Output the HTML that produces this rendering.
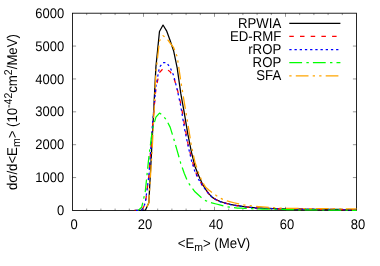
<!DOCTYPE html>
<html><head><meta charset="utf-8"><style>
html,body{margin:0;padding:0;background:#fff;}
body{width:380px;height:266px;overflow:hidden;}
svg{display:block;}
</style></head><body>
<svg width="380" height="266" viewBox="0 0 380 266" font-family="'Liberation Sans', sans-serif" font-size="13.2" fill="#000" text-rendering="geometricPrecision" style="will-change:transform">
<rect width="380" height="266" fill="#fff"/>
<rect x="72.5" y="13.2" width="284.0" height="197.25" fill="none" stroke="#000" stroke-width="0.85"/>
<path d="M86.70,210.45v-1.9M86.70,13.2v1.9M100.90,210.45v-1.9M100.90,13.2v1.9M115.10,210.45v-1.9M115.10,13.2v1.9M129.30,210.45v-1.9M129.30,13.2v1.9M143.50,210.45v-3.6M143.50,13.2v3.6M157.70,210.45v-1.9M157.70,13.2v1.9M171.90,210.45v-1.9M171.90,13.2v1.9M186.10,210.45v-1.9M186.10,13.2v1.9M200.30,210.45v-1.9M200.30,13.2v1.9M214.50,210.45v-3.6M214.50,13.2v3.6M228.70,210.45v-1.9M228.70,13.2v1.9M242.90,210.45v-1.9M242.90,13.2v1.9M257.10,210.45v-1.9M257.10,13.2v1.9M271.30,210.45v-1.9M271.30,13.2v1.9M285.50,210.45v-3.6M285.50,13.2v3.6M299.70,210.45v-1.9M299.70,13.2v1.9M313.90,210.45v-1.9M313.90,13.2v1.9M328.10,210.45v-1.9M328.10,13.2v1.9M342.30,210.45v-1.9M342.30,13.2v1.9M72.5,177.57h3.6M356.5,177.57h-3.6M72.5,144.70h3.6M356.5,144.70h-3.6M72.5,111.82h3.6M356.5,111.82h-3.6M72.5,78.95h3.6M356.5,78.95h-3.6M72.5,46.07h3.6M356.5,46.07h-3.6" stroke="#000" stroke-width="0.42" fill="none"/>
<polyline points="134.62,210.40 138.18,210.40 141.72,210.40 145.27,210.40 148.82,202.69 152.38,135.79 155.93,66.65 159.47,31.48 163.02,25.04 166.57,30.82 170.12,40.54 173.68,51.14 177.22,68.18 180.77,93.46 184.32,113.15 187.88,134.45 191.43,152.17 194.97,166.42 198.52,175.18 202.07,183.26 205.62,189.37 209.17,194.17 212.72,197.63 216.28,199.70 219.82,201.36 223.38,202.52 226.92,203.51 230.47,204.37 234.03,205.10 237.57,205.69 241.12,206.22 244.67,206.75 248.22,207.11 251.77,207.46 255.32,207.81 258.88,208.01 262.42,208.16 265.98,208.31 269.52,208.46 273.07,208.61 276.62,208.76 280.17,208.90 283.73,208.96 287.27,209.01 290.82,209.06 294.38,209.12 297.92,209.17 301.48,209.21 305.02,209.24 308.57,209.26 312.12,209.29 315.67,209.31 319.23,209.34 322.77,209.36 326.32,209.39 329.88,209.41 333.43,209.44 336.97,209.46 340.52,209.49 344.07,209.51 347.62,209.54 351.18,209.56 354.72,209.59 356.50,209.60" fill="none" stroke="#000" stroke-width="1.25" stroke-linejoin="round"/>
<polyline points="134.62,210.40 138.18,210.40 141.72,209.79 145.27,204.32 148.82,176.30 152.38,127.26 155.93,88.00 159.47,72.60 163.02,68.70 166.57,69.00 170.12,71.70 173.68,77.30 177.22,88.93 180.77,103.54 184.32,123.54 187.88,143.20 191.43,157.95 194.97,170.51 198.52,178.56 202.07,184.60 205.62,189.57 209.17,194.27 212.72,197.73 216.28,199.80 219.82,201.46 223.38,202.62 226.92,203.61 230.47,204.47 234.03,205.20 237.57,205.79 241.12,206.32 244.67,206.85 248.22,207.21 251.77,207.56 255.32,207.91 258.88,208.10 262.42,208.23 265.98,208.37 269.52,208.50 273.07,208.64 276.62,208.77 280.17,208.90 283.73,208.94 287.27,208.98 290.82,209.01 294.38,209.05 297.92,209.09 301.48,209.12 305.02,209.16 308.57,209.20 312.12,209.24 315.67,209.27 319.23,209.31 322.77,209.35 326.32,209.38 329.88,209.42 333.43,209.46 336.97,209.50 340.52,209.53 344.07,209.57 347.62,209.61 351.18,209.64 354.72,209.68 356.50,209.70" fill="none" stroke="#f00" stroke-width="1.25" stroke-linejoin="round" stroke-dasharray="4.5 6.2" stroke-dashoffset="3.5"/>
<polyline points="134.62,210.40 138.18,210.40 141.72,209.88 145.27,203.19 148.82,176.38 152.38,125.96 155.93,86.00 159.47,67.20 163.02,62.50 166.57,62.80 170.12,67.40 173.68,75.60 177.22,89.76 180.77,106.07 184.32,127.64 187.88,145.01 191.43,160.31 194.97,171.86 198.52,179.30 202.07,185.11 205.62,189.67 209.17,194.37 212.72,197.83 216.28,199.90 219.82,201.56 223.38,202.72 226.92,203.71 230.47,204.57 234.03,205.30 237.57,205.89 241.12,206.42 244.67,206.95 248.22,207.31 251.77,207.66 255.32,208.01 258.88,208.20 262.42,208.33 265.98,208.47 269.52,208.60 273.07,208.74 276.62,208.87 280.17,209.00 283.73,209.04 287.27,209.09 290.82,209.13 294.38,209.17 297.92,209.21 301.48,209.25 305.02,209.29 308.57,209.34 312.12,209.38 315.67,209.42 319.23,209.46 322.77,209.50 326.32,209.55 329.88,209.59 333.43,209.63 336.97,209.67 340.52,209.71 344.07,209.75 347.62,209.80 351.18,209.84 354.72,209.88 356.50,209.90" fill="none" stroke="#00f" stroke-width="1.25" stroke-linejoin="round" stroke-dasharray="2.3 2.9" stroke-dashoffset="3.7"/>
<polyline points="138.18,210.35 141.72,207.20 145.27,191.61 148.82,157.38 152.38,129.46 155.93,117.15 159.47,113.05 163.02,115.69 166.57,120.15 170.12,127.15 173.68,138.52 177.22,150.88 180.77,163.45 184.32,173.54 187.88,182.01 191.43,187.07 194.97,191.77 198.52,195.08 202.07,198.25 205.62,200.61 209.17,202.24 212.72,203.12 216.28,203.99 219.82,204.86 223.38,205.85 226.92,206.77 230.47,207.19 234.03,207.60 237.57,208.01 241.12,208.18 244.67,208.35 248.22,208.52 251.77,208.70 255.32,208.87 258.88,208.96 262.42,209.03 265.98,209.10 269.52,209.18 273.07,209.25 276.62,209.32 280.17,209.39 283.73,209.47 287.27,209.54 290.82,209.61 294.38,209.68 297.92,209.76 301.48,209.81 305.02,209.84 308.57,209.88 312.12,209.91 315.67,209.94 319.23,209.97 322.77,210.00 326.32,210.03 329.88,210.06 333.43,210.10 336.97,210.13 340.52,210.16 344.07,210.19 347.62,210.22 351.18,210.25 354.72,210.28 356.50,210.30" fill="none" stroke="#0f0" stroke-width="1.25" stroke-linejoin="round" stroke-dasharray="12.8 4.3 2.4 4.1" stroke-dashoffset="3.5"/>
<polyline points="145.27,210.38 148.82,202.75 152.38,145.65 155.93,72.25 159.47,41.00 163.02,35.70 166.57,38.30 170.12,43.00 173.68,47.70 177.22,56.80 180.77,80.84 184.32,102.69 187.88,123.92 191.43,145.86 194.97,162.14 198.52,172.70 202.07,181.32 205.62,187.32 209.17,190.26 212.72,192.97 216.28,195.52 219.82,197.91 223.38,199.59 226.92,200.96 230.47,201.86 234.03,202.75 237.57,203.57 241.12,204.35 244.67,205.13 248.22,205.51 251.77,205.86 255.32,206.21 258.88,206.54 262.42,206.88 265.98,207.21 269.52,207.50 273.07,207.74 276.62,207.97 280.17,208.20 283.73,208.26 287.27,208.31 290.82,208.36 294.38,208.42 297.92,208.47 301.48,208.51 305.02,208.54 308.57,208.56 312.12,208.59 315.67,208.61 319.23,208.64 322.77,208.66 326.32,208.69 329.88,208.71 333.43,208.74 336.97,208.76 340.52,208.79 344.07,208.81 347.62,208.84 351.18,208.86 354.72,208.89 356.50,208.90" fill="none" stroke="#ffa500" stroke-width="1.25" stroke-linejoin="round" stroke-dasharray="12.7 4.2 2.3 4.2 2.3 4.2" stroke-dashoffset="26.2"/>
<line x1="289.3" y1="23.3" x2="340.4" y2="23.3" stroke="#000" stroke-width="1.25"/>
<text transform="translate(281.20,28.00) scale(1,1.075)" text-anchor="end" font-size="13.2">RPWIA</text>
<line x1="289.3" y1="36.4" x2="340.4" y2="36.4" stroke="#f00" stroke-width="1.25" stroke-dasharray="4.5 6.2" stroke-dashoffset="0"/>
<text transform="translate(281.20,41.00) scale(1,1.075)" text-anchor="end" font-size="13.2">ED-RMF</text>
<line x1="289.3" y1="49.5" x2="340.4" y2="49.5" stroke="#00f" stroke-width="1.25" stroke-dasharray="2.3 2.9" stroke-dashoffset="0"/>
<text transform="translate(281.20,54.00) scale(1,1.075)" text-anchor="end" font-size="13.2">rROP</text>
<line x1="289.3" y1="62.7" x2="340.4" y2="62.7" stroke="#0f0" stroke-width="1.25" stroke-dasharray="12.8 4.3 2.4 4.1" stroke-dashoffset="0"/>
<text transform="translate(281.20,67.00) scale(1,1.075)" text-anchor="end" font-size="13.2">ROP</text>
<line x1="289.3" y1="75.85" x2="340.4" y2="75.85" stroke="#ffa500" stroke-width="1.25" stroke-dasharray="12.7 4.2 2.3 4.2 2.3 4.2" stroke-dashoffset="23.4"/>
<text transform="translate(281.20,80.00) scale(1,1.075)" text-anchor="end" font-size="13.2">SFA</text>
<text transform="translate(64.20,215.00) scale(1,1.075)" text-anchor="end" font-size="13">0</text>
<text transform="translate(64.20,182.00) scale(1,1.075)" text-anchor="end" font-size="13">1000</text>
<text transform="translate(64.20,149.00) scale(1,1.075)" text-anchor="end" font-size="13">2000</text>
<text transform="translate(64.20,116.00) scale(1,1.075)" text-anchor="end" font-size="13">3000</text>
<text transform="translate(64.20,84.00) scale(1,1.075)" text-anchor="end" font-size="13">4000</text>
<text transform="translate(64.20,51.00) scale(1,1.075)" text-anchor="end" font-size="13">5000</text>
<text transform="translate(64.20,18.00) scale(1,1.075)" text-anchor="end" font-size="13">6000</text>
<text transform="translate(74.10,229.00) scale(1,1.075)" text-anchor="middle" font-size="13">0</text>
<text transform="translate(145.10,229.00) scale(1,1.075)" text-anchor="middle" font-size="13">20</text>
<text transform="translate(216.10,229.00) scale(1,1.075)" text-anchor="middle" font-size="13">40</text>
<text transform="translate(287.10,229.00) scale(1,1.075)" text-anchor="middle" font-size="13">60</text>
<text transform="translate(358.10,229.00) scale(1,1.075)" text-anchor="middle" font-size="13">80</text>
<text transform="translate(214.00,248.00) scale(1,1.075)" text-anchor="middle" font-size="13.2">&lt;E<tspan font-size="10.5" dy="2.7">m</tspan><tspan dy="-2.7">&gt; (MeV)</tspan></text>
<text transform="translate(17.10,112.10) rotate(-90) scale(1,1.075)" text-anchor="middle" font-size="13.2">d&#963;/d&lt;E<tspan font-size="10.5" dy="2.7">m</tspan><tspan dy="-2.7">&gt; (10</tspan><tspan font-size="10.5" dy="-4.6">-42</tspan><tspan dy="4.6">cm</tspan><tspan font-size="10.5" dy="-4.6">2</tspan><tspan dy="4.6">/MeV)</tspan></text>
</svg>
</body></html>
